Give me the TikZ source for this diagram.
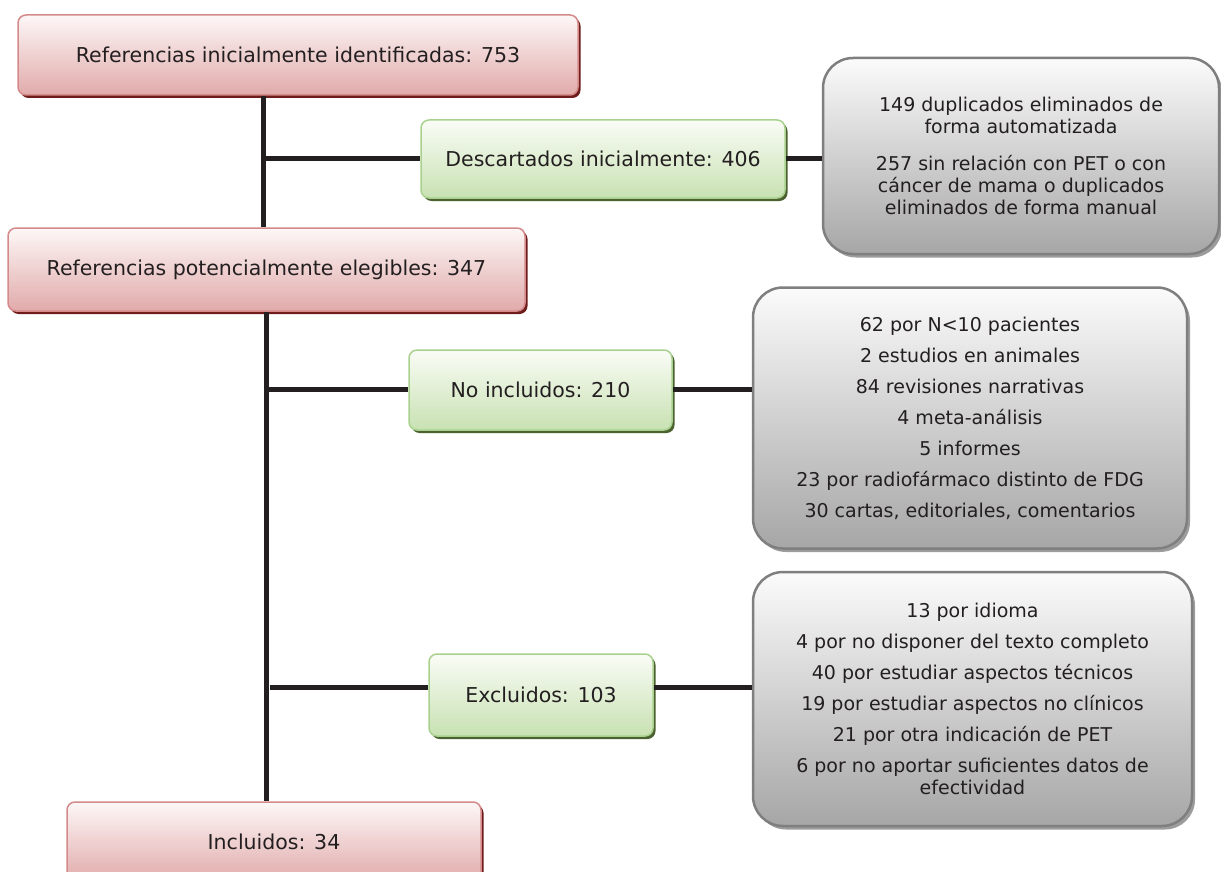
\documentclass[tikz,border=0pt]{standalone}
\usepackage{fontspec}
\setmainfont{DejaVu Sans}
\usetikzlibrary{shadows}
\definecolor{ink}{HTML}{231F20}
\definecolor{redtop}{HTML}{FDF7F7}
\definecolor{redbot}{HTML}{E1AAAA}
\definecolor{redline}{HTML}{D48A8A}
\definecolor{redshadow}{HTML}{6E1C1C}
\definecolor{greentop}{HTML}{FAFCF6}
\definecolor{greenbot}{HTML}{C8E1B2}
\definecolor{greenline}{HTML}{A9D18E}
\definecolor{greenshadow}{HTML}{4B6130}
\definecolor{graytop}{HTML}{FBFBFB}
\definecolor{graybot}{HTML}{A6A6A6}
\definecolor{grayline}{HTML}{7F7F7F}
\definecolor{grayshadow}{HTML}{9C9C9C}
\begin{document}
\begin{tikzpicture}[x=1pt, y=-1pt, font=\fontsize{19}{22}\selectfont,
    box/.style={rounded corners=8pt, line width=1.5pt, align=center, inner sep=0pt, text=ink},
    redbox/.style={box, draw=redline, top color=redtop, bottom color=redbot, font=\fontsize{20.5}{24}\selectfont,
      drop shadow={shadow xshift=2.5pt, shadow yshift=-3pt, fill=redshadow, opacity=1}},
    greenbox/.style={box, draw=greenline, top color=greentop, bottom color=greenbot, font=\fontsize{20.5}{24}\selectfont,
      drop shadow={shadow xshift=2.5pt, shadow yshift=-3pt, fill=greenshadow, opacity=1}},
    graybox/.style={box, rounded corners=30pt, line width=2.5pt, draw=grayline,
      top color=graytop, bottom color=graybot,
      drop shadow={shadow xshift=3pt, shadow yshift=-3.5pt, fill=grayshadow, opacity=1}},
    link/.style={line width=5pt, draw=ink}]
    \useasboundingbox (0,0) rectangle (1221,872);
    % main column
    \node[redbox, minimum width=560pt, minimum height=80pt] (ini) at (298,55) {Referencias inicialmente identificadas: 753};
    \node[redbox, minimum width=517pt, minimum height=83pt] (pot) at (266.5,269.5) {Referencias potencialmente elegibles: 347};
    \node[redbox, minimum width=414pt, minimum height=80pt] (incl) at (274,842) {Incluidos: 34};
    % side branches
    \node[greenbox, minimum width=364pt, minimum height=78pt] (desc) at (603,159) {Descartados inicialmente: 406};
    \node[greenbox, minimum width=263pt, minimum height=80pt] (noinc) at (540.5,390) {No incluidos: 210};
    \node[greenbox, minimum width=224pt, minimum height=82pt] (excl) at (541,695) {Excluidos: 103};
    \node[graybox, minimum width=396pt, minimum height=196pt] (g1) at (1021,156)
      {149 duplicados eliminados de\\ forma automatizada\\[15pt]
       257 sin relación con PET o con\\ cáncer de mama o duplicados\\ eliminados de forma manual};
    \node[graybox, minimum width=434pt, minimum height=261pt] (g2) at (970,418)
      {62 por N<10 pacientes\\[9pt] 2 estudios en animales\\[9pt] 84 revisiones narrativas\\[9pt]
       4 meta-análisis\\[9pt] 5 informes\\[9pt] 23 por radiofármaco distinto de FDG\\[9pt]
       30 cartas, editoriales, comentarios};
    \node[graybox, minimum width=439pt, minimum height=254pt] (g3) at (972.5,699)
      {13 por idioma\\[9pt] 4 por no disponer del texto completo\\[9pt] 40 por estudiar aspectos técnicos\\[9pt]
       19 por estudiar aspectos no clínicos\\[9pt] 21 por otra indicación de PET\\[9pt]
       6 por no aportar suficientes datos de\\ efectividad};
    % connectors
    \coordinate (j1) at (263,159);
    \coordinate (j2) at (266,389);
    \coordinate (j3) at (266,687);
    \draw[link] (ini.south -| j1) -- (pot.north -| j1);
    \draw[link] (pot.south -| j2) -- (incl.north -| j2);
    \draw[link] (j1) -- (desc.west |- j1);
    \draw[link] (desc.east |- j1) -- (g1.west |- j1);
    \draw[link] (j2) -- (noinc.west |- j2);
    \draw[link] (noinc.east |- j2) -- (g2.west |- j2);
    \draw[link] ([xshift=4pt]j3) -- (excl.west |- j3);
    \draw[link] (excl.east |- j3) -- (g3.west |- j3);
  \end{tikzpicture}
\end{document}
